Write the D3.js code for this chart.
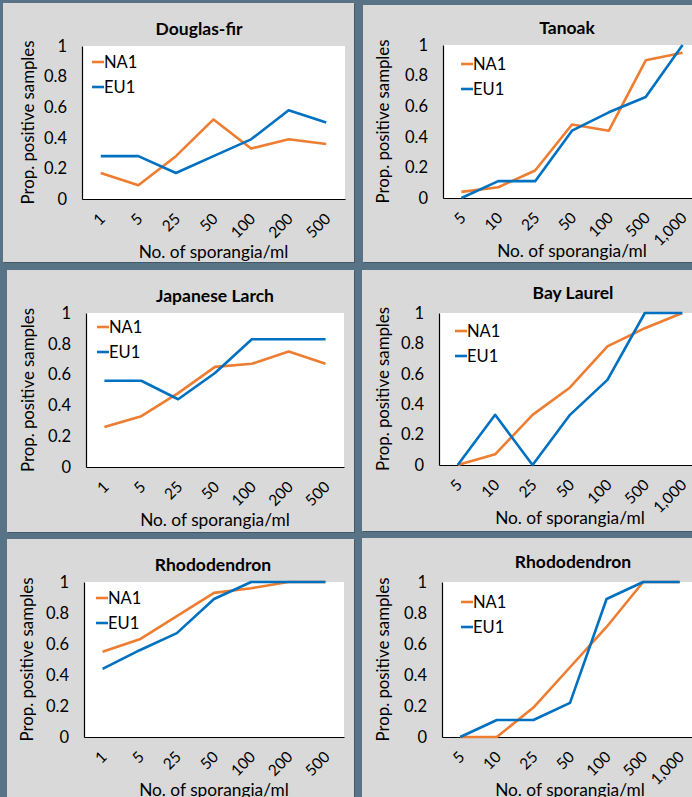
<!DOCTYPE html>
<html>
<head>
<meta charset="utf-8">
<script src="https://cdn.jsdelivr.net/npm/d3@7"></script>
<style>
  html, body { margin: 0; padding: 0; background: #587385; }
  svg { display: block; font-family: Lato, "Open Sans", sans-serif; }
</style>
</head>
<body>
<div id="chart"></div>
<script>
// categories
const dosesA = ['1', '5', '25', '50', '100', '200', '500'];
const dosesB = ['5', '10', '25', '50', '100', '500', '1,000'];
const yTicks = [0, 0.2, 0.4, 0.6, 0.8, 1];

// proportion of positive samples
const douglasNA1 = [0.17, 0.09, 0.28, 0.52, 0.33, 0.39, 0.36];
const douglasEU1 = [0.28, 0.28, 0.17, 0.28, 0.39, 0.58, 0.50];
const tanoakNA1  = [0.04, 0.07, 0.18, 0.48, 0.44, 0.90, 0.95];
const tanoakEU1  = [0, 0.11, 0.11, 0.44, 0.56, 0.66, 1.0];
const larchNA1   = [0.26, 0.33, 0.48, 0.65, 0.67, 0.75, 0.67];
const larchEU1   = [0.56, 0.56, 0.44, 0.61, 0.83, 0.83, 0.83];
const laurelNA1  = [0, 0.07, 0.33, 0.51, 0.78, 0.90, 1.0];
const laurelEU1  = [0, 0.33, 0, 0.33, 0.56, 1.0, 1.0];
const rhodoANA1  = [0.55, 0.63, 0.78, 0.93, 0.96, 1.0, 1.0];
const rhodoAEU1  = [0.44, 0.56, 0.67, 0.89, 1.0, 1.0, 1.0];
const rhodoBNA1  = [0, 0, 0.19, 0.45, 0.71, 1.0, 1.0];
const rhodoBEU1  = [0, 0.11, 0.11, 0.22, 0.89, 1.0, 1.0];

const colors = { NA1: '#ed7d31', EU1: '#0070c0' };

// layout of the six panels
const panels = [
  { title: 'Douglas-fir', cats: dosesA, na1: douglasNA1, eu1: douglasEU1,
    box: [3, 3, 351, 259], plot: [82, 46, 345, 199], tx: 199, ty: 29, lx: 92, ly: 62, yl: 28 },
  { title: 'Tanoak', cats: dosesB, na1: tanoakNA1, eu1: tanoakEU1,
    box: [363, 5, 340, 257], plot: [443, 45, 701, 198], tx: 567, ty: 28, lx: 461, ly: 64, yl: 383 },
  { title: 'Japanese Larch', cats: dosesA, na1: larchNA1, eu1: larchEU1,
    box: [7, 270, 347, 262], plot: [86, 313, 344, 467], tx: 215, ty: 296, lx: 97, ly: 327, yl: 28 },
  { title: 'Bay Laurel', cats: dosesB, na1: laurelNA1, eu1: laurelEU1,
    box: [362, 270, 340, 261], plot: [439, 313, 701, 465], tx: 573, ty: 293, lx: 455, ly: 331, yl: 383 },
  { title: 'Rhododendron', cats: dosesA, na1: rhodoANA1, eu1: rhodoAEU1,
    box: [7, 539, 347, 270], plot: [84, 582, 344, 737], tx: 213, ty: 565, lx: 96, ly: 598, yl: 27 },
  { title: 'Rhododendron', cats: dosesB, na1: rhodoBNA1, eu1: rhodoBEU1,
    box: [362, 538, 340, 270], plot: [442, 582, 698, 737], tx: 573, ty: 562, lx: 461, ly: 602, yl: 383 }
];

const W = 692, H = 797;
const svg = d3.select('#chart').append('svg')
    .attr('width', W).attr('height', H);

svg.append('rect').attr('width', W).attr('height', H).attr('fill', '#587385');

panels.forEach(p => {
  const [bx, by, bw, bh] = p.box;
  const [l, t, r, b] = p.plot;
  const g = svg.append('g');

  g.append('rect').attr('x', bx + 1).attr('y', by + 1).attr('width', bw).attr('height', bh)
    .attr('fill', '#43596a');
  g.append('rect').attr('x', bx).attr('y', by).attr('width', bw).attr('height', bh)
    .attr('fill', '#d9d9d9');
  g.append('rect').attr('x', l).attr('y', t).attr('width', r - l).attr('height', b - t)
    .attr('fill', '#ffffff');

  const x = d3.scalePoint().domain(p.cats).range([l, r]).padding(0.5);
  const y = d3.scaleLinear().domain([0, 1]).range([b, t]);

  // y axis
  const ya = g.append('g').attr('transform', `translate(${l},0)`)
    .call(d3.axisLeft(y).tickValues(yTicks).tickSize(0).tickPadding(15)
      .tickFormat(d => d === 0 || d === 1 ? d3.format('d')(d) : d3.format('.1f')(d)));
  ya.select('.domain').attr('stroke', '#000').attr('stroke-width', 1.2);
  ya.selectAll('text').attr('font-size', 16.5).attr('fill', '#000')
    .attr('font-family', 'Lato, sans-serif');

  // x axis
  const xa = g.append('g').attr('transform', `translate(0,${b})`)
    .call(d3.axisBottom(x).tickSize(0).tickPadding(0));
  xa.select('.domain').attr('stroke', '#000').attr('stroke-width', 1.2);
  xa.selectAll('text')
    .attr('font-size', 15.5).attr('fill', '#000').attr('font-family', 'Lato, sans-serif')
    .attr('text-anchor', 'end')
    .attr('dy', '0.35em')
    .attr('transform', 'translate(1,17) rotate(-45)');

  // lines
  const line = d3.line().x((d, i) => x(p.cats[i])).y(d => y(d));
  [['NA1', p.na1], ['EU1', p.eu1]].forEach(([name, vals]) => {
    g.append('path').datum(vals)
      .attr('d', line)
      .attr('fill', 'none')
      .attr('stroke', colors[name])
      .attr('stroke-width', 2.6)
      .attr('stroke-linejoin', 'round');
  });

  // legend
  ['NA1', 'EU1'].forEach((name, i) => {
    const ly = p.ly + i * 25;
    g.append('line').attr('x1', p.lx).attr('x2', p.lx + 12)
      .attr('y1', ly).attr('y2', ly)
      .attr('stroke', colors[name]).attr('stroke-width', 2.6);
    g.append('text').attr('x', p.lx + 12).attr('y', ly)
      .attr('dy', '0.36em').attr('font-size', 16.5).attr('fill', '#000')
      .text(name);
  });

  // titles
  g.append('text').attr('x', p.tx).attr('y', p.ty).attr('dy', '0.36em')
    .attr('text-anchor', 'middle').attr('font-size', 17.5).attr('font-weight', 'bold')
    .text(p.title);

  g.append('text').attr('x', (l + r) / 2).attr('y', b + 53).attr('dy', '0.36em')
    .attr('text-anchor', 'middle').attr('font-size', 17.3)
    .text('No. of sporangia/ml');

  g.append('text')
    .attr('transform', `translate(${p.yl},${(t + b) / 2}) rotate(-90)`)
    .attr('dy', '0.36em')
    .attr('text-anchor', 'middle').attr('font-size', 16.8)
    .text('Prop. positive samples');
});
</script>
</body>
</html>
